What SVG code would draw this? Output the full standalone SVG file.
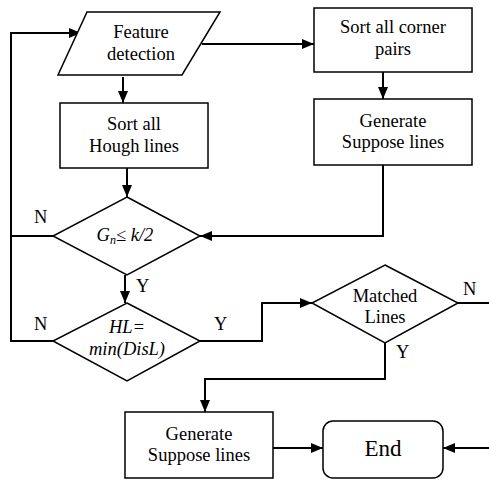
<svg xmlns="http://www.w3.org/2000/svg" width="489" height="480" viewBox="0 0 489 480">
<defs>
<marker id="ah" markerWidth="12" markerHeight="10" refX="12" refY="5" orient="auto" markerUnits="userSpaceOnUse">
<path d="M0,0 L12,5 L0,10 Z" fill="#000"/>
</marker>
</defs>
<style>
.s{fill:#fff;stroke:#000;stroke-width:1.5}
.c{fill:none;stroke:#000;stroke-width:2}
text{font-family:'Liberation Serif','DejaVu Serif',serif;font-size:18.5px;fill:#000}
.t{text-anchor:middle}
.i{font-style:italic}
</style>
<rect width="489" height="480" fill="#fff"/>
<g id="connectors">
<polyline class="c" points="53,341 11,341 11,33 81,33" marker-end="url(#ah)"/>
<line class="c" x1="53" y1="236" x2="11" y2="236"/>
<line class="c" x1="123" y1="77" x2="123" y2="103" marker-end="url(#ah)"/>
<line class="c" x1="202" y1="44" x2="314" y2="44" marker-end="url(#ah)"/>
<line class="c" x1="383" y1="72" x2="383" y2="99" marker-end="url(#ah)"/>
<polyline class="c" points="383,165 383,236 200,236" marker-end="url(#ah)"/>
<line class="c" x1="127" y1="168" x2="127" y2="197" marker-end="url(#ah)"/>
<line class="c" x1="125" y1="275" x2="125" y2="303" marker-end="url(#ah)"/>
<polyline class="c" points="200,341 262,341 262,303 312,303" marker-end="url(#ah)"/>
<line class="c" x1="458" y1="303" x2="489" y2="303"/>
<polyline class="c" points="385,343 385,379 205,379 205,412" marker-end="url(#ah)"/>
<line class="c" x1="273" y1="448" x2="323" y2="448" marker-end="url(#ah)"/>
<line class="c" x1="489" y1="448" x2="443" y2="448" marker-end="url(#ah)"/>
<text x="34" y="223">N</text>
<text x="136" y="292">Y</text>
<text x="34" y="330">N</text>
<text x="214" y="330">Y</text>
<text x="463" y="295">N</text>
<text x="396" y="358">Y</text>
</g>
<g id="feature">
<polygon class="s" points="87,12 220,12 182,75 58,75"/>
<text class="t" x="141" y="38">Feature</text>
<text class="t" x="141" y="60">detection</text>
</g>
<g id="hough">
<rect class="s" x="60" y="103" width="148" height="65"/>
<text class="t" x="134" y="130">Sort all</text>
<text class="t" x="134" y="152">Hough lines</text>
</g>
<g id="corner">
<rect class="s" x="314" y="8" width="158" height="64"/>
<text class="t" x="393" y="33">Sort all corner</text>
<text class="t" x="393" y="55">pairs</text>
</g>
<g id="suppose1">
<rect class="s" x="314" y="99" width="158" height="66"/>
<text class="t" x="393" y="127">Generate</text>
<text class="t" x="393" y="148">Suppose lines</text>
</g>
<g id="gn">
<polygon class="s" points="127,197 200,236 127,275 53,236"/>
<text class="t i" x="125" y="241">G<tspan font-size="12" dy="3">n</tspan><tspan dy="-3">≤ k/2</tspan></text>
</g>
<g id="hl">
<polygon class="s" points="127,303 200,341 127,381 53,341"/>
<text class="t i" x="127" y="333">HL=</text>
<text class="t i" x="127" y="355">min(DisL)</text>
</g>
<g id="matched">
<polygon class="s" points="385,265 458,303 385,343 312,303"/>
<text class="t" x="385" y="302">Matched</text>
<text class="t" x="385" y="323">Lines</text>
</g>
<g id="suppose2">
<rect class="s" x="125" y="412" width="148" height="66"/>
<text class="t" x="199" y="440">Generate</text>
<text class="t" x="199" y="461">Suppose lines</text>
</g>
<g id="end">
<rect class="s" x="323" y="421" width="120" height="57" rx="10"/>
<text class="t" x="383" y="456" style="font-size:23px">End</text>
</g>
</svg>
